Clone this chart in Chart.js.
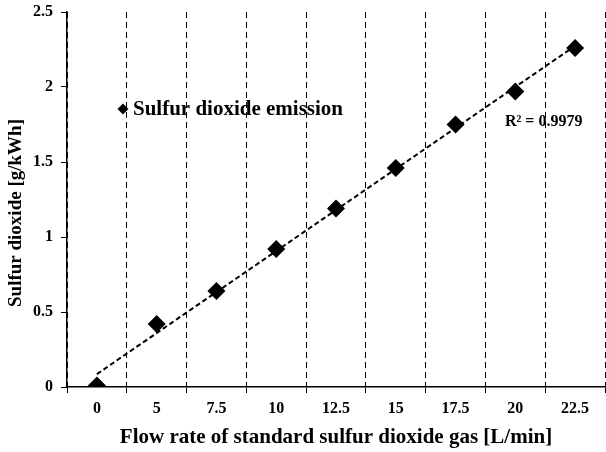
<!DOCTYPE html>
<html>
<head>
<meta charset="utf-8">
<style>
  html, body { margin: 0; padding: 0; background: #fff; }
  #wrap { width: 606px; height: 452px; }
</style>
<script src="https://cdn.jsdelivr.net/npm/chart.js@4/dist/chart.umd.min.js"></script>
</head>
<body>
<div id="wrap"><canvas id="chart" width="606" height="452"></canvas></div>
<script>
// Data
const flowRates = ['0', '5', '7.5', '10', '12.5', '15', '17.5', '20', '22.5'];
const emission = [0.01, 0.42, 0.64, 0.92, 1.19, 1.46, 1.75, 1.97, 2.26];
const yTicks = [0, 0.5, 1, 1.5, 2, 2.5];
const seriesName = 'Sulfur dioxide emission';
const rSquaredText = 'R\u00b2 = 0.9979';
const yTitle = 'Sulfur dioxide [g/kWh]';

const FONT = '"Liberation Serif", "Times New Roman", serif';

// Linear trendline over category index (like a spreadsheet trendline)
function linearFit(values) {
    const n = values.length;
    let sx = 0, sy = 0, sxy = 0, sxx = 0;
    values.forEach((v, i) => { sx += i; sy += v; sxy += i * v; sxx += i * i; });
    const slope = (n * sxy - sx * sy) / (n * sxx - sx * sx);
    const intercept = (sy - slope * sx) / n;
    return values.map((v, i) => intercept + slope * i);
}
const fitAll = linearFit(emission);
const trend = fitAll.map((v, i) => (i === 0 || i === fitAll.length - 1) ? v : null);

// Legend, R² label and the y title drawn by hand
const insideLabels = {
    id: 'insideLabels',
    afterDatasetsDraw(chart) {
        const ctx = chart.ctx;
        const area = chart.chartArea;
        ctx.save();
        // legend marker
        const mx = area.left + 56, my = area.top + 97, r = 5.5;
        ctx.fillStyle = '#000';
        ctx.beginPath();
        ctx.moveTo(mx, my - r);
        ctx.lineTo(mx + r, my);
        ctx.lineTo(mx, my + r);
        ctx.lineTo(mx - r, my);
        ctx.closePath();
        ctx.fill();
        ctx.font = 'bold 21px ' + FONT;
        ctx.textBaseline = 'middle';
        ctx.textAlign = 'left';
        ctx.fillText(seriesName, mx + 10, my + 1);
        // R² label
        ctx.font = 'bold 16px ' + FONT;
        ctx.fillText(rSquaredText, area.left + 438, area.top + 110);
        // y axis title
        ctx.translate(16, 213);
        ctx.rotate(-Math.PI / 2);
        ctx.textAlign = 'center';
        ctx.font = 'bold 19px ' + FONT;
        ctx.fillText(yTitle, 0, 0);
        ctx.restore();
    }
};

new Chart(document.getElementById('chart'), {
    type: 'line',
    data: {
        labels: flowRates,
        datasets: [
            {
                label: seriesName,
                data: emission,
                showLine: false,
                pointStyle: 'rectRot',
                pointRadius: 9,
                pointBackgroundColor: '#000',
                pointBorderColor: '#000',
                pointBorderWidth: 0
            },
            {
                label: 'Linear trend',
                data: trend,
                spanGaps: true,
                borderColor: '#000',
                borderWidth: 2,
                borderDash: [5, 3],
                pointRadius: 0,
                fill: false
            }
        ]
    },
    options: {
        responsive: false,
        animation: false,
        layout: { autoPadding: false, padding: { top: 12, right: 1, left: 0, bottom: 0 } },
        plugins: {
            legend: { display: false },
            tooltip: { enabled: false }
        },
        scales: {
            x: {
                type: 'category',
                offset: true,
                grid: {
                    offset: true,
                    color: '#000',
                    lineWidth: 1,
                    tickLength: 6,
                    tickBorderDash: []
                },
                border: { color: '#000', width: 1.5, dash: [6, 4] },
                ticks: {
                    color: '#000',
                    padding: 6,
                    maxRotation: 0,
                    font: { family: FONT, size: 16, weight: 'bold' }
                },
                title: {
                    display: true,
                    text: 'Flow rate of standard sulfur dioxide gas [L/min]',
                    color: '#000',
                    padding: { top: 0, bottom: 2 },
                    font: { family: FONT, size: 21, weight: 'bold' }
                },
                afterFit(scale) {
                    scale.height = 65;
                    scale.paddingLeft = 0;
                    scale.paddingRight = 0;
                }
            },
            y: {
                min: yTicks[0],
                max: yTicks[yTicks.length - 1],
                afterBuildTicks(scale) {
                    scale.ticks = yTicks.map(v => ({ value: v }));
                },
                grid: {
                    drawOnChartArea: false,
                    color: '#000',
                    tickLength: 6
                },
                border: { color: '#000', width: 1.5 },
                ticks: {
                    color: '#000',
                    padding: 8,
                    callback: v => String(v),
                    font: { family: FONT, size: 16, weight: 'bold' }
                },
                afterFit(scale) {
                    scale.width = 67;
                    scale.paddingTop = 0;
                    scale.paddingBottom = 0;
                }
            }
        }
    },
    plugins: [insideLabels]
});
</script>
</body>
</html>
